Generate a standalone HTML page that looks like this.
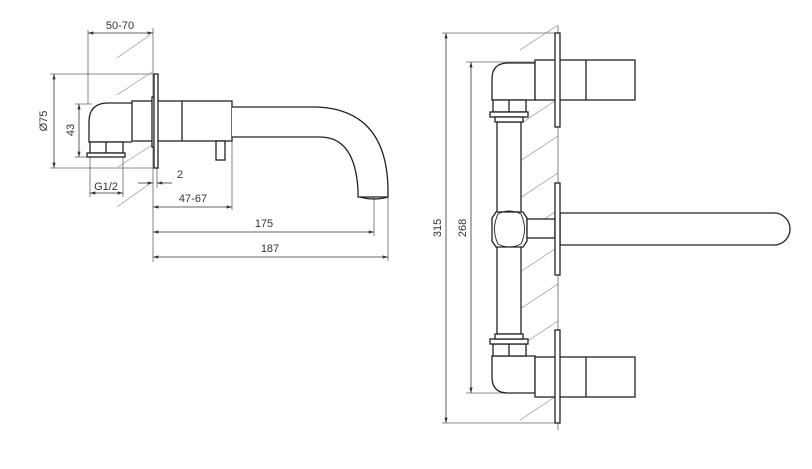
<!DOCTYPE html>
<html><head><meta charset="utf-8"><style>
html,body{margin:0;padding:0;background:#fff}
svg{display:block}
text{font-family:"Liberation Sans",sans-serif;font-size:11px;fill:#333}
</style></head><body>
<svg width="812" height="469" viewBox="0 0 812 469" xmlns="http://www.w3.org/2000/svg">
<defs>
<marker id="a" viewBox="0 0 10 6" refX="10" refY="3" markerWidth="7" markerHeight="4" orient="auto-start-reverse"><path d="M0,0L10,3L0,6z" fill="#333"/></marker>
</defs>
<g stroke="#aaa" stroke-width="0.8">
<line x1="117" y1="58" x2="150" y2="35"/>
<line x1="117" y1="95" x2="152" y2="72"/>
<line x1="117" y1="132" x2="152" y2="109"/>
<line x1="118" y1="167" x2="152" y2="145"/>
<line x1="117" y1="207" x2="152" y2="182"/>
<line x1="520" y1="50" x2="558" y2="25"/>
<line x1="520" y1="87" x2="558" y2="62"/>
<line x1="520" y1="124" x2="558" y2="99"/>
<line x1="520" y1="161" x2="558" y2="136"/>
<line x1="520" y1="198" x2="558" y2="173"/>
<line x1="520" y1="235" x2="558" y2="210"/>
<line x1="520" y1="272" x2="558" y2="247"/>
<line x1="520" y1="309" x2="558" y2="284"/>
<line x1="520" y1="346" x2="558" y2="321"/>
<line x1="520" y1="383" x2="558" y2="358"/>
<line x1="520" y1="420" x2="558" y2="395"/>
</g>
<g stroke="#666" stroke-width="0.8" fill="none">
<line x1="88" y1="30" x2="88" y2="104"/>
<line x1="153" y1="28" x2="153" y2="262"/>
<line x1="50" y1="74" x2="153" y2="74"/>
<line x1="50" y1="168" x2="153" y2="168"/>
<line x1="75" y1="104" x2="92" y2="104"/>
<line x1="75" y1="157" x2="88" y2="157"/>
<line x1="90" y1="157" x2="90" y2="197"/>
<line x1="123" y1="157" x2="123" y2="197"/>
<line x1="157" y1="168" x2="157" y2="188"/>
<line x1="232" y1="141" x2="232" y2="210"/>
<line x1="374" y1="197" x2="374" y2="236"/>
<line x1="388" y1="197" x2="388" y2="261"/>
<line x1="558" y1="26" x2="558" y2="430"/>
<line x1="442" y1="33" x2="558" y2="33"/>
<line x1="442" y1="423" x2="558" y2="423"/>
<line x1="466" y1="62" x2="540" y2="62"/>
<line x1="466" y1="393" x2="540" y2="393"/>
</g>
<g stroke="#333" stroke-width="0.8" fill="none">
<line x1="88" y1="33" x2="153" y2="33" marker-start="url(#a)" marker-end="url(#a)"/>
<line x1="54" y1="74" x2="54" y2="168" marker-start="url(#a)" marker-end="url(#a)"/>
<line x1="79" y1="104" x2="79" y2="157" marker-start="url(#a)" marker-end="url(#a)"/>
<line x1="90" y1="193" x2="123" y2="193" marker-start="url(#a)" marker-end="url(#a)"/>
<line x1="138" y1="183" x2="153" y2="183" marker-end="url(#a)"/>
<line x1="172" y1="183" x2="157" y2="183" marker-end="url(#a)"/>
<line x1="153" y1="207" x2="232" y2="207" marker-start="url(#a)" marker-end="url(#a)"/>
<line x1="153" y1="232" x2="374" y2="232" marker-start="url(#a)" marker-end="url(#a)"/>
<line x1="153" y1="257" x2="388" y2="257" marker-start="url(#a)" marker-end="url(#a)"/>
<line x1="446" y1="33" x2="446" y2="423" marker-start="url(#a)" marker-end="url(#a)"/>
<line x1="471" y1="62" x2="471" y2="393" marker-start="url(#a)" marker-end="url(#a)"/>
</g>
<text x="120" y="29" text-anchor="middle">50-70</text>
<text transform="translate(47,121) rotate(-90)" text-anchor="middle">Ø75</text>
<text transform="translate(74,130) rotate(-90)" text-anchor="middle">43</text>
<text x="106" y="190" text-anchor="middle">G1/2</text>
<text x="180" y="178" text-anchor="middle">2</text>
<text x="193" y="202" text-anchor="middle">47-67</text>
<text x="264" y="227" text-anchor="middle">175</text>
<text x="270" y="252" text-anchor="middle">187</text>
<text transform="translate(441,228) rotate(-90)" text-anchor="middle">315</text>
<text transform="translate(466,228) rotate(-90)" text-anchor="middle">268</text>
<g stroke="#222" stroke-width="1.3" fill="#fff">
<path d="M132,103 L108,103 Q89,103 89,122 L89,142 L132,142"/>
<rect x="90" y="142" width="33" height="11"/>
<line x1="106" y1="142" x2="106" y2="153"/>
<rect x="87" y="153" width="38" height="4"/>
<rect x="132" y="101" width="100" height="40"/>
<line x1="182" y1="101" x2="182" y2="141"/>
<rect x="152" y="97" width="3" height="50"/>
<rect x="154" y="74" width="4" height="94"/>
<rect x="216" y="141" width="9" height="19"/>
<path d="M232,107 L317,107 Q388,110 388,192 L388,197 L358,197 L358,190 Q355,137 320,137 L232,137"/>
<path d="M360,197 Q374,201 388,197" fill="none"/>
</g>
<g stroke="#222" stroke-width="1.3" fill="#fff">
<rect x="497" y="122" width="24" height="212"/>
<path d="M535,63 L508,63 Q492,63 492,79 L492,100 L535,100 Z"/>
<rect x="493" y="100" width="33" height="12"/>
<line x1="509" y1="100" x2="509" y2="112"/>
<rect x="490" y="112" width="38" height="5"/>
<rect x="495" y="117" width="28" height="5"/>
<path d="M535,393 L508,393 Q492,393 492,377 L492,356 L535,356 Z"/>
<rect x="493" y="344" width="33" height="12"/>
<line x1="509" y1="344" x2="509" y2="356"/>
<rect x="490" y="339" width="38" height="5"/>
<rect x="495" y="334" width="28" height="5"/>
<path d="M496,212 L523,212 L527,218 L527,241 L523,247 L496,247 L492,241 L492,218 Z"/>
<path d="M498,214 Q509,208 521,214 Q528,229 521,244 Q509,250 498,244 Q491,229 498,214 Z" fill="none" stroke-width="0.9"/>
<rect x="527" y="219" width="28" height="19"/>
<rect x="535" y="60" width="100" height="40"/>
<line x1="586" y1="60" x2="586" y2="100"/>
<rect x="535" y="357" width="100" height="40"/>
<line x1="586" y1="357" x2="586" y2="397"/>
<path d="M560,213 L774,213 A16,16 0 0 1 774,245 L560,245 Z"/>
<rect x="555" y="33" width="5" height="94"/>
<rect x="555" y="183" width="5" height="92"/>
<rect x="555" y="330" width="5" height="93"/>
</g>
</svg>
</body></html>
